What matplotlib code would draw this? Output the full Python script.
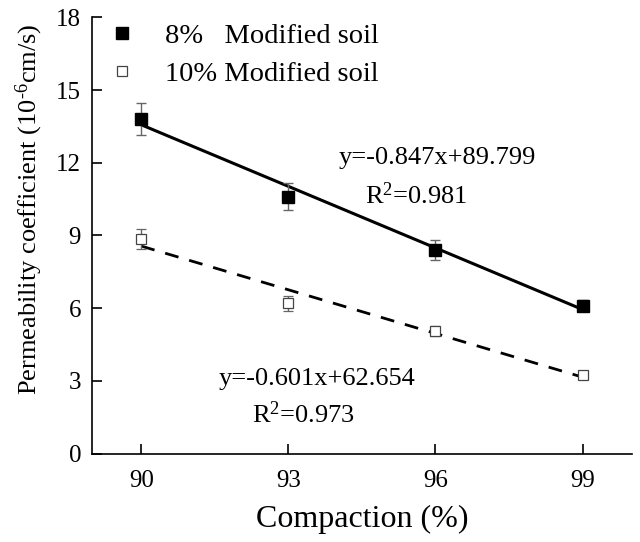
import matplotlib
matplotlib.use("Agg")
import matplotlib.pyplot as plt
from matplotlib.lines import Line2D
import numpy as np

plt.rcParams['font.family'] = ['Liberation Serif', 'DejaVu Serif']
plt.rcParams['mathtext.fontset'] = 'custom'
plt.rcParams['mathtext.rm'] = 'Liberation Serif'
plt.rcParams['mathtext.it'] = 'Liberation Serif'

compaction = [90, 93, 96, 99]
k8 = [13.8, 10.6, 8.4, 6.1]
k8_err = [0.67, 0.55, 0.4, 0.22]
k10 = [8.85, 6.2, 5.05, 3.25]
k10_err = [0.42, 0.3, 0.2, 0.12]
fit8 = (-0.847, 89.799)
fit10 = (-0.601, 62.654)
xticks = [90, 93, 96, 99]
yticks = [0, 3, 6, 9, 12, 15, 18]
labels = ['8%   Modified soil', '10% Modified soil']

fig = plt.figure(figsize=(6.4, 5.42), dpi=100)
ax = fig.add_axes([0.144, 0.163, 0.843, 0.805])

xf = np.array([compaction[0], compaction[-1]])
ax.plot(xf, fit8[0] * xf + fit8[1], color='black', lw=2.2, zorder=2)
ax.plot(xf, fit10[0] * xf + fit10[1], color='black', lw=2.0, ls=(0, (5, 4)), zorder=2)

ax.errorbar(compaction, k8, yerr=k8_err, fmt='s', ms=8, mfc='black', mec='black',
            ecolor='#666666', elinewidth=1, capsize=3.5, capthick=1, zorder=3)
ax.errorbar(compaction, k10, yerr=k10_err, fmt='s', ms=7, mfc='white', mec='#444444', mew=0.9,
            ecolor='#666666', elinewidth=1, capsize=3.5, capthick=1, zorder=3)

ax.set_xlim(89, 100)
ax.set_ylim(0, 18)
ax.set_xticks(xticks)
ax.set_yticks(yticks)
ax.tick_params(direction='in', length=7, width=1.2, labelsize=18)
ax.tick_params(axis='x', pad=12)
ax.tick_params(axis='y', pad=8)
for s in ['top', 'right']:
    ax.spines[s].set_visible(False)
for s in ['left', 'bottom']:
    ax.spines[s].set_linewidth(1.2)

ax.set_xlabel('Compaction (%)', fontsize=23, labelpad=9)
ax.set_ylabel('Permeability coefficient (10$^{\u2010 6}$cm/s)', fontsize=19)
ax.yaxis.set_label_coords(-0.088, 0.56)

ax.text(98.05, 12.2, 'y=-0.847x+89.799', fontsize=19, ha='right', va='center')
ax.text(95.6, 10.65, 'R$^2$=0.981', fontsize=19, ha='center', va='center')
ax.text(95.6, 3.1, 'y=-0.601x+62.654', fontsize=19, ha='right', va='center')
ax.text(93.3, 1.6, 'R$^2$=0.973', fontsize=19, ha='center', va='center')

handles = [Line2D([], [], ls='none', marker='s', ms=8, mfc='black', mec='black'),
           Line2D([], [], ls='none', marker='s', ms=7, mfc='white', mec='#444444', mew=0.9)]
ax.legend(handles, labels, loc='upper left', bbox_to_anchor=(-0.003, 1.025), frameon=False,
          fontsize=20.5, handletextpad=1.0, borderaxespad=0.2, labelspacing=0.4,
          handlelength=1.0)

fig.savefig('out.png', dpi=100)
